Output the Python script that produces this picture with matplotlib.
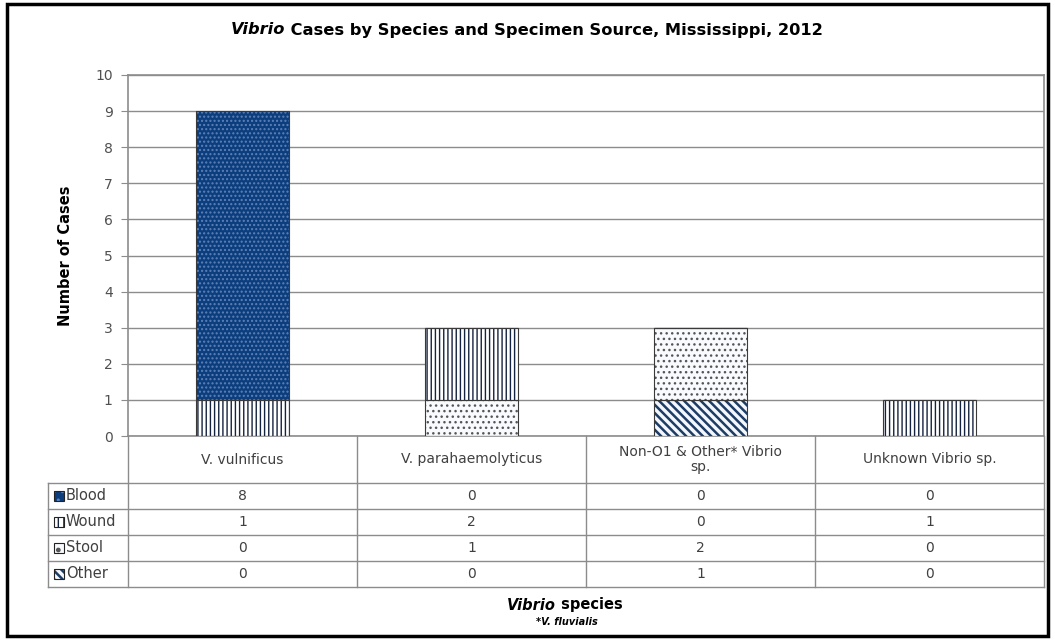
import matplotlib
matplotlib.use('Agg')
import matplotlib.pyplot as plt
from matplotlib.patches import Rectangle

# ---------------- data ----------------
species = ["V. vulnificus", "V. parahaemolyticus",
           "Non-O1 & Other* Vibrio\nsp.", "Unknown Vibrio sp."]
sources = ["Blood", "Wound", "Stool", "Other"]
blood = [8, 0, 0, 0]
wound = [1, 2, 0, 1]
stool = [0, 1, 2, 0]
other = [0, 0, 1, 0]
yticks = list(range(0, 11))

values = {"Blood": blood, "Wound": wound, "Stool": stool, "Other": other}
stack_order = ["Other", "Stool", "Wound", "Blood"]  # bottom -> top

styles = {
    "Blood": dict(face="#0c3d7c", hc="#5d82b8", hatch="....", hlw=1.0),
    "Wound": dict(face="white", hc="#14233f", hatch="||||", hlw=1.0),
    "Stool": dict(face="#f8fafd", hc="#555555", hatch="...", hlw=1.0),
    "Other": dict(face="#f4f8fc", hc="#1d3c66", hatch="\\\\\\\\", hlw=1.8),
}

plt.rcParams['font.family'] = ['DejaVu Sans']
plt.rcParams['hatch.linewidth'] = 1.0

W, H = 1055, 640
fig = plt.figure(figsize=(W / 100, H / 100), dpi=100)
fig.patch.set_facecolor('white')


def fx(px):
    return px / W


def fy(py):
    return 1 - py / H


# outer frame
fig.patches.append(Rectangle((fx(7), fy(636)), fx(1048) - fx(7), fy(4) - fy(636),
                             transform=fig.transFigure, fill=False,
                             ec='black', lw=2.5))

GRID = '#8c8c8c'
TXT = '#404040'


def set_hlw(artists, lw):
    for a in artists:
        if hasattr(a, 'set_hatch_linewidth'):
            a.set_hatch_linewidth(lw)
        else:
            a._hatch_linewidth = lw


L, R, T, B = 128, 1044, 75, 436
ax = fig.add_axes([fx(L), fy(B), fx(R) - fx(L), fy(T) - fy(B)])
x = list(range(len(species)))
bw = 0.405
bottoms = [0] * len(species)
for src in stack_order:
    st = styles[src]
    vals = values[src]
    with plt.rc_context({'hatch.linewidth': st["hlw"]}):
        bars = ax.bar(x, vals, bw, bottom=bottoms, color=st["face"],
                      edgecolor=st["hc"], hatch=st["hatch"], linewidth=0,
                      zorder=3)
    set_hlw(bars, st["hlw"])
    ax.bar(x, vals, bw, bottom=bottoms, fill=False, edgecolor='#3a3a3a',
           linewidth=0.8, zorder=4)
    bottoms = [b + v for b, v in zip(bottoms, vals)]

ax.set_xlim(-0.5, len(species) - 0.5)
ax.set_ylim(0, 10)
ax.set_yticks(yticks)
ax.set_yticklabels([str(t) for t in yticks], fontsize=10, color='#505050')
ax.set_xticks([])
ax.yaxis.grid(True, color=GRID, lw=1.0)
ax.set_axisbelow(True)
ax.tick_params(axis='y', length=5, color=GRID, pad=6)
for s in ax.spines.values():
    s.set_color(GRID)
    s.set_linewidth(1.2)
ax.set_ylabel("Number of Cases", fontsize=10.5, fontweight='bold', labelpad=16,
              color='black')

# ---------------- data table ----------------
header_h = 47
row_h = 26
lab_w = 80 / 229.0
tab = fig.add_axes([fx(48), fy(587), fx(1044) - fx(48), fy(436) - fy(587)])
tab.set_xlim(-0.5 - lab_w, len(species) - 0.5)
tab.set_ylim(header_h + row_h * len(sources), 0)
tab.axis('off')
x0 = -0.5 - lab_w
xe = len(species) - 0.5
ybot = header_h + row_h * len(sources)
for i in range(len(species) + 1):
    xv = -0.5 + i
    tab.plot([xv, xv], [0, ybot], color=GRID, lw=1.0, clip_on=False)
tab.plot([x0, x0], [header_h, ybot], color=GRID, lw=1.0, clip_on=False)
for j in range(len(sources) + 1):
    yh = header_h + j * row_h
    tab.plot([x0, xe], [yh, yh], color=GRID, lw=1.0, clip_on=False)

for i, sp in enumerate(species):
    tab.text(i, header_h / 2, sp, ha='center', va='center', fontsize=10,
             color=TXT, linespacing=1.1)

key_hatch = {"Blood": "..", "Wound": "|||", "Stool": ".", "Other": "\\\\\\\\"}
for j, src in enumerate(sources):
    yc = header_h + (j + 0.5) * row_h
    st = styles[src]
    kx = x0 + 6 / 229.0
    kw = 10 / 229.0
    with plt.rc_context({'hatch.linewidth': st["hlw"]}):
        kp = Rectangle((kx, yc - 5), kw, 10, facecolor=st["face"],
                       edgecolor=st["hc"], hatch=key_hatch[src], lw=0,
                       clip_on=False)
    set_hlw([kp], st["hlw"])
    tab.add_patch(kp)
    tab.add_patch(Rectangle((kx, yc - 5), kw, 10, fill=False,
                            edgecolor='#222222', lw=0.8, clip_on=False))
    tab.text(kx + kw + 2 / 229.0, yc, src, ha='left', va='center', fontsize=10.5,
             color=TXT)
    for i in range(len(species)):
        tab.text(i, yc, str(values[src][i]), ha='center', va='center',
                 fontsize=10, color=TXT)

# ---------------- mixed-style texts ----------------
renderer = fig.canvas.get_renderer()


def mixed(parts, cx, cy, size):
    texts, widths = [], []
    for s, style in parts:
        t = fig.text(0, 0, s, fontsize=size, fontstyle=style, fontweight='bold',
                     va='center', ha='left', color='black')
        bb = t.get_window_extent(renderer)
        texts.append(t)
        widths.append(bb.width)
    xx = cx - sum(widths) / 2
    for t, w in zip(texts, widths):
        t.set_position((fx(xx), fy(cy)))
        xx += w


mixed([("Vibrio", 'italic'),
       (" Cases by Species and Specimen Source, Mississippi, 2012", 'normal')],
      527, 30, 11.7)
mixed([("Vibrio", 'italic'), (" species", 'normal')], 565, 605, 10.5)
fig.text(fx(567), fy(622), "*V. fluvialis", fontsize=7, fontstyle='italic',
         fontweight='bold', ha='center', va='center')

fig.savefig("out.png", dpi=100)
